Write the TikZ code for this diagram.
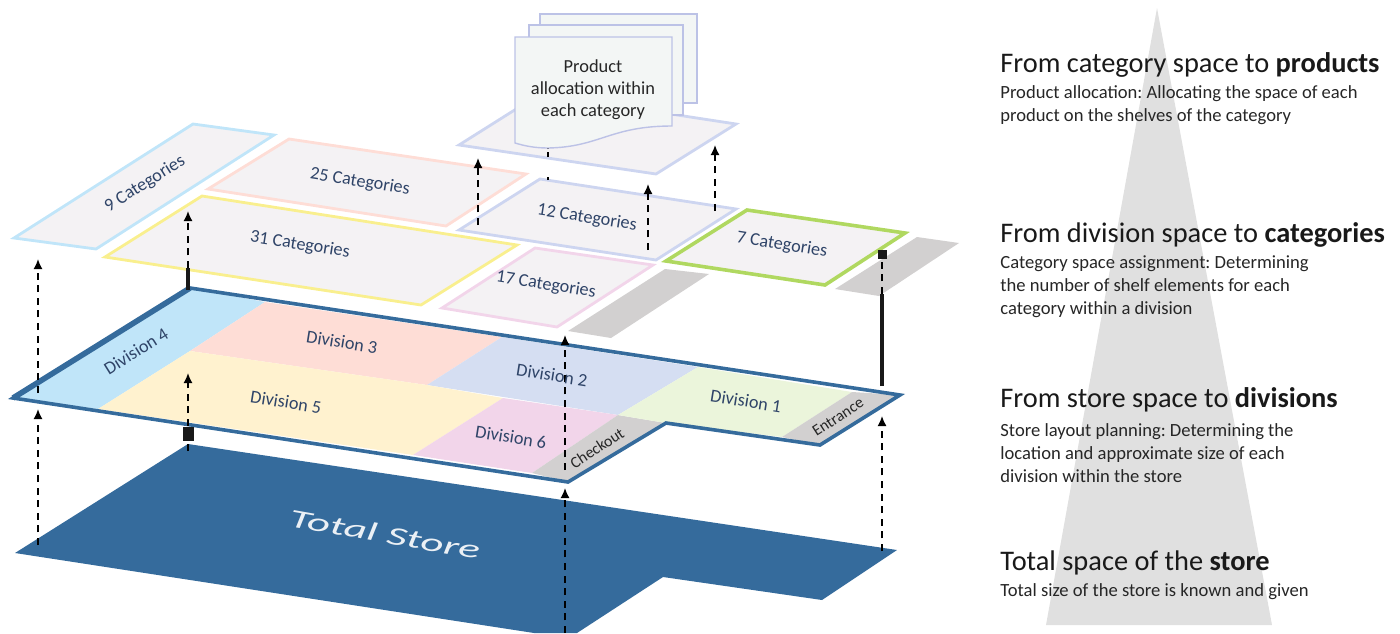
\documentclass[tikz,border=0pt]{standalone}
\usepackage{fontspec}
\setmainfont{Carlito}
\frenchspacing
\definecolor{storeblue}{HTML}{356B9C}
\definecolor{panel}{HTML}{F4F2F4}
\definecolor{grayz}{HTML}{D2D0D0}
\definecolor{txtblue}{HTML}{2F4468}
\definecolor{docfill}{HTML}{F3F6F5}
\definecolor{docline}{HTML}{BCC2E6}
\definecolor{cblue}{HTML}{C0E5F9}
\definecolor{cpink}{HTML}{FEDDD6}
\definecolor{cperi}{HTML}{D5DEF2}
\definecolor{cyellow}{HTML}{FFF2CF}
\definecolor{cmag}{HTML}{F2D5EA}
\definecolor{cgreen}{HTML}{EBF5DB}
\definecolor{lineyellow}{HTML}{F9EF8E}
\definecolor{lineperi}{HTML}{CDD5F0}
\definecolor{linegreen}{HTML}{B0D860}
\usetikzlibrary{arrows.meta}
\tikzset{
  layer/.style={line width=1.4pt,fill=panel,line join=miter},
  lbl/.style={font=\fontsize{9.1}{10}\selectfont,text=txtblue,inner sep=0pt},
  graylbl/.style={font=\fontsize{8}{9}\selectfont,text=black!85,inner sep=0pt},
  dashline/.style={line width=0.8pt,black,dash pattern=on 3.5pt off 2.8pt},
  dasharrow/.style={dashline,-{Latex[length=5pt,width=4.5pt]}},
  solidpart/.style={line width=1.6pt,black!90},
  head/.style={font=\fontsize{14.2}{16}\selectfont,anchor=base west,inner sep=0pt,text=black!90},
  sub/.style={font=\fontsize{9.3}{11.5}\selectfont,anchor=north west,inner sep=0pt,align=left,text=black!85},
  docpage/.style={draw=docline,fill=docfill,line width=0.7pt},
}
\begin{document}
\begin{tikzpicture}[x=0.5pt,y=-0.5pt]
\useasboundingbox (0,0) rectangle (1400,633);
% pyramid
\fill[black!12] (1157,8) -- (1046,625) -- (1272,625) -- cycle;
% total store
\fill[storeblue] (188,444) -- (897,550) -- (822,600) -- (663,577) -- (577,633) -- (534,633) -- (15,553) -- cycle;
\node[font=\itshape\fontsize{13}{15}\selectfont,text=white,rotate=-10,inner sep=0pt,xscale=1.72,opacity=0.9] (tstore) at (385,534) {Total Store};
% division floor
\fill[cblue] (190,288) -- (13,398) -- (98,409) -- (190,351) -- (265,302) -- cycle;
\fill[cpink] (265,302) -- (190,351) -- (427,385) -- (502,337) -- cycle;
\fill[cperi] (502,337) -- (427,385) -- (618,415) -- (698,367) -- cycle;
\fill[cyellow] (190,351) -- (98,409) -- (413,455) -- (503,398) -- (427,385) -- cycle;
\fill[cmag] (503,398) -- (413,455) -- (532,473) -- (618,415) -- cycle;
\fill[grayz] (618,415) -- (532,473) -- (568,482) -- (666,423) -- cycle;
\fill[cgreen] (698,367) -- (618,415) -- (666,423) -- (782,437) -- (852,392) -- cycle;
\fill[grayz] (852,392) -- (782,437) -- (820,445) -- (900,395) -- cycle;
\draw[storeblue,line width=1.8pt,line join=miter] (190,288) -- (900,395) -- (820,445) -- (666,423) -- (568,482) -- (13,398) -- cycle;
\draw[storeblue,line width=2.8pt] (190,288) -- (13,398);
% category layers
\draw[layer,draw=cblue] (193,124) -- (14,238) -- (96,249) -- (274,135) -- cycle;
\draw[layer,draw=cpink] (289,139) -- (208,189) -- (446,226) -- (526,174) -- cycle;
\draw[layer,draw=lineyellow] (202,196) -- (105,257) -- (421,305) -- (517,245) -- cycle;
\draw[layer,draw=cmag] (535,248) -- (442,308) -- (557,327) -- (653,265) -- cycle;
\draw[layer,draw=lineperi] (540,179) -- (459,230) -- (656,260) -- (736,209) -- cycle;
\draw[layer,draw=lineperi] (540,94) -- (459,145) -- (656,174) -- (736,124) -- cycle;
\draw[layer,draw=linegreen,line width=1.8pt] (747,210) -- (666,261) -- (825,285) -- (905,233) -- cycle;
\fill[grayz] (665,269) -- (568,331) -- (611,338) -- (709,274) -- cycle;
\fill[grayz] (917,237) -- (835,289) -- (879,296) -- (959,243) -- cycle;
% arrows
\coordinate (a0) at (38,545); \coordinate (a1) at (38,409);
\coordinate (a2) at (38,393); \coordinate (a3) at (38,259);
\draw[dasharrow] (a0) -- (a1);
\draw[dasharrow] (a2) -- (a3);
\coordinate (b0) at (188,451); \coordinate (b1) at (188,373);
\coordinate (b2) at (188,290); \coordinate (b3) at (188,268); \coordinate (b4) at (188,211);
\draw[dasharrow] (b0) -- (b1);
\node[fill=black!90,minimum width=5.5pt,minimum height=7pt,inner sep=0pt] (bsq) at (188,434) {};
\draw[solidpart] (b2) -- (b3);
\draw[dasharrow] (b3) -- (b4);
\coordinate (c0) at (565,633); \coordinate (c1) at (565,488);
\coordinate (c2) at (565,470); \coordinate (c3) at (565,335);
\draw[dasharrow] (c0) -- (c1);
\draw[dasharrow] (c2) -- (c3);
\coordinate (d0) at (882,551); \coordinate (d1) at (882,416);
\coordinate (d2) at (882,386); \coordinate (d3) at (882,294); \coordinate (d4) at (882,256);
\draw[dasharrow] (d0) -- (d1);
\draw[solidpart] (d2) -- (d3);
\draw[dashline] (d3) -- (d4);
\node[fill=black!90,minimum width=4.5pt,minimum height=4.5pt,inner sep=0pt] (dsq) at (882,254) {};
\coordinate (e0) at (478,225); \coordinate (e1) at (478,158);
\draw[dasharrow] (e0) -- (e1);
\coordinate (f0) at (648,250); \coordinate (f1) at (648,184);
\draw[dasharrow] (f0) -- (f1);
\coordinate (g0) at (715,211); \coordinate (g1) at (715,145);
\draw[dasharrow] (g0) -- (g1);
\coordinate (h0) at (548,180); \coordinate (h1) at (548,177);
\coordinate (h2) at (548,157); \coordinate (h3) at (548,148);
\draw[line width=0.8pt] (h0) -- (h1);
\draw[dashline,dash pattern=on 2.5pt off 1.5pt] (h2) -- (h3);
% documents
\draw[docpage] (540,14) rectangle (697,103);
\draw[docpage] (529,25) rectangle (683,115);
\draw[docpage] (515,37) -- (672,37) -- (672,126) .. controls (610,126) and (600,147) .. (548,148) .. controls (535,148) and (525,146) .. (515,143) -- cycle;
\node[font=\fontsize{9.2}{11}\selectfont,align=center,inner sep=0pt,text=black!85] (prod) at (593,90) {Product\\allocation within\\each category};
% labels
\node[lbl,rotate=32] (d4) at (136,351) {Division 4};
\node[lbl,rotate=-9] (d3l) at (342,342) {Division 3};
\node[lbl,rotate=-9] (d2l) at (552,375) {Division 2};
\node[lbl,rotate=-9] (d5l) at (286,402) {Division 5};
\node[lbl,rotate=-9] (d6l) at (511,437) {Division 6};
\node[lbl,rotate=-9] (d1l) at (746,401) {Division 1};
\node[graylbl,rotate=33] (chk) at (597,448) {Checkout};
\node[graylbl,rotate=33] (ent) at (838,417) {Entrance};
\node[lbl,rotate=32] (c9) at (145,184) {9 Categories};
\node[lbl,rotate=-9] (c25) at (360,182) {25 Categories};
\node[lbl,rotate=-9] (c31) at (300,245) {31 Categories};
\node[lbl,rotate=-9] (c17) at (546,285) {17 Categories};
\node[lbl,rotate=-9] (c12) at (587,218) {12 Categories};
\node[lbl,rotate=-9] (c7) at (782,245) {7 Categories};
% right text
\node[head] (h1t) at (1000,72) {From category space to \textbf{products}};
\node[sub] (s1t) at (1000,85) {Product allocation: Allocating the space of each\\product on the shelves of the category};
\node[head] (h2t) at (1000,242) {From division space to \textbf{categories}};
\node[sub] (s2t) at (1000,255) {Category space assignment: Determining\\the number of shelf elements for each\\category within a division};
\node[head] (h3t) at (1000,407) {From store space to \textbf{divisions}};
\node[sub] (s3t) at (1000,423) {Store layout planning: Determining the\\location and approximate size of each\\division within the store};
\node[head] (h4t) at (1000,570) {Total space of the \textbf{store}};
\node[sub] (s4t) at (1000,583) {Total size of the store is known and given};
\end{tikzpicture}
\end{document}
